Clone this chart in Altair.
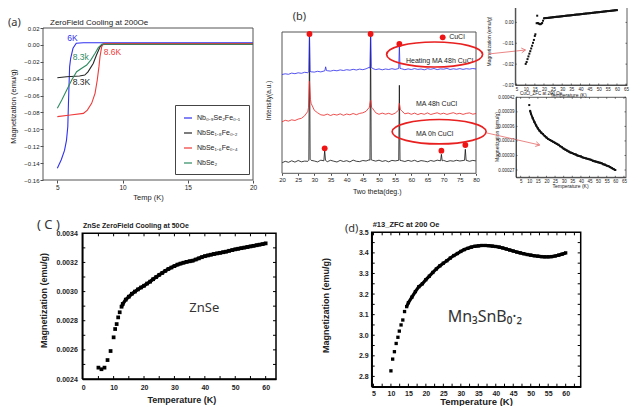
import altair as alt
import pandas as pd

W, H = 626, 398
SANS = "Liberation Sans"
ROUND = "Noto Sans"
INK = "#222222"

# ---------------- (a) data ----------------
a_names = ["Nb₀.₉Se₂Fe₀.₁", "NbSe₁.₈Fe₀.₂", "NbSe₁.₆Fe₀.₄", "NbSe₂"]
a_colors = ["#3030f0", "#262626", "#f03a3a", "#2e8b62"]
a_blue_T = [5.0, 5.3, 5.55, 5.7, 5.8, 5.86, 5.94, 6.02, 6.2, 6.45, 7.0, 20.0]
a_blue_M = [-0.146, -0.136, -0.125, -0.113, -0.097, -0.065, -0.026, -0.016, -0.004, 0.002, 0.0025, 0.0025]
a_black_T = [5.0, 5.7, 6.7, 7.1, 7.35, 7.75, 8.0, 8.25, 8.45, 20.0]
a_black_M = [-0.039, -0.0377, -0.0369, -0.0357, -0.032, -0.022, -0.012, -0.003, 0.0008, 0.0008]
a_red_T = [5.0, 6.0, 7.0, 7.3, 7.63, 7.89, 8.06, 8.19, 8.27, 8.4, 8.55, 20.0]
a_red_M = [-0.085, -0.083, -0.0811, -0.0772, -0.0692, -0.0574, -0.0416, -0.0258, -0.014, -0.002, 0.0015, 0.0015]
a_green_T = [5.0, 5.34, 5.72, 6.1, 6.48, 6.87, 7.25, 7.56, 7.89, 8.14, 8.4, 20.0]
a_green_M = [-0.0751, -0.0653, -0.0535, -0.0416, -0.0318, -0.0277, -0.0238, -0.018, -0.010, -0.0033, 0.0008, 0.0008]
a_xticks = [5, 10, 15, 20]
a_yticks = [0.02, 0.0, -0.02, -0.04, -0.06, -0.08, -0.10, -0.12, -0.14, -0.16]
a_lbl_t = ["6K", "8.3k", "8.3K", "8.6K"]
a_lbl_x = [6.16, 6.79, 6.85, 9.23]
a_lbl_y = [0.0082, -0.0147, -0.0436, -0.008]

# ---------------- (b) data ----------------
b_base_x = list(range(20, 81))
b_black_base = [10.5, 12.0, 11.0, 12.5, 11.2, 12.8, 11.5, 12.2, 12.0, 13.0,
                12.3, 11.4, 13.1, 12.0, 11.6, 13.0, 12.1, 11.3, 12.9, 11.8,
                12.6, 11.4, 13.2, 12.0, 11.7, 12.8, 12.3, 13.5, 13.0, 12.2,
                13.1, 11.9, 12.7, 11.5, 12.9, 12.4, 13.5, 12.6, 11.8, 12.9,
                12.0, 13.0, 11.6, 12.7, 12.2, 11.5, 12.8, 12.0, 13.1, 12.5,
                12.9, 11.7, 12.6, 12.1, 13.0, 12.3, 12.8, 13.5, 12.0, 12.9,
                12.4]
b_red_base = [51.5, 53.0, 52.2, 53.5, 52.8, 54.2, 55.0, 57.5, 62.0, 70.0,
              63.0, 60.5, 58.5, 58.0, 59.2, 57.8, 59.0, 58.2, 59.5, 58.0,
              59.3, 58.5, 59.8, 58.6, 59.9, 60.5, 62.0, 66.0, 65.0, 60.5,
              59.0, 60.2, 59.1, 60.0, 58.8, 60.1, 62.0, 62.5, 59.5, 60.3,
              59.0, 60.2, 58.7, 59.9, 59.0, 60.4, 58.8, 59.7, 60.5, 59.2,
              60.1, 58.9, 59.8, 60.6, 59.3, 60.0, 58.9, 59.9, 60.4, 59.1,
              59.8]
b_blue_base = [98.8, 99.5, 99.0, 100.2, 99.6, 100.5, 100.0, 101.0, 100.6, 101.5,
               101.2, 102.0, 101.4, 102.3, 102.6, 102.2, 103.0, 102.5, 103.4, 102.8,
               103.6, 103.1, 104.0, 103.3, 104.2, 103.6, 104.5, 106.0, 104.8, 103.7,
               104.4, 103.5, 104.3, 103.8, 104.6, 103.9, 105.0, 104.5, 103.6, 104.4,
               103.8, 104.7, 103.9, 104.3, 103.5, 104.6, 104.0, 104.8, 103.7, 104.4,
               104.1, 104.9, 103.8, 104.5, 104.0, 104.7, 103.9, 104.6, 104.2, 104.8,
               104.3]
b_black_pk_x = [28.3, 28.5, 28.7, 32.95, 33.2, 33.45, 47.2, 47.4, 47.6, 56.1, 56.3, 56.5,
                69.05, 69.3, 69.55, 76.45, 76.7, 76.95]
b_black_pk_y = [13.0, 141.3, 14.0, 12.5, 23.0, 13.0, 13.0, 141.3, 13.5, 13.0, 88.0, 13.0,
                12.5, 19.0, 12.5, 13.0, 24.0, 13.0]
b_black_centers = [28.5, 33.2, 47.4, 56.3, 69.3, 76.7]
b_red_pk_x = [28.2, 28.5, 28.8, 47.1, 47.4, 47.7, 56.0, 56.3, 56.6]
b_red_pk_y = [66.0, 92.0, 74.0, 68.0, 73.0, 66.0, 63.0, 70.0, 64.0]
b_red_centers = [28.5, 47.4, 56.3]
b_blue_pk_x = [28.3, 28.5, 28.7, 33.25, 33.5, 33.75, 47.2, 47.4, 47.6, 56.1, 56.3, 56.5]
b_blue_pk_y = [101.5, 141.3, 102.0, 102.5, 106.5, 102.8, 105.0, 141.3, 106.5, 104.8, 128.0, 105.0]
b_blue_centers = [28.5, 33.5, 47.4, 56.3]
b_dot_x = [28.5, 33.2, 47.4, 56.3, 69.3, 76.7]
b_dot_y = [139.3, 25.0, 139.3, 129.3, 22.6, 28.3]
b_xticks = [20, 25, 30, 35, 40, 45, 50, 55, 60, 65, 70, 75, 80]
b_lbl_t = ["Heating MA 48h CuCl", "MA 48h CuCl", "MA 0h CuCl"]
b_lbl_x = [68.75, 67.8, 67.2]
b_lbl_y = [112.3, 69.3, 39.3]
b_ell_x = [67.2, 68.6]
b_ell_y = [118.8, 41.6]
b_arr_x = [83.75, 83.4]
b_arr_y = [119.3, 40.3]
b_arr_x2 = [95.3, 99.7]
b_arr_y2 = [123.3, 28.3]

# ---------------- top-right data ----------------
t1_T = [10, 10.5, 11, 11.5, 12, 12.5, 13, 13.5, 14, 14.5, 15, 15.3, 16, 16.3, 16.6, 17, 17.5, 18, 18.5, 19, 19.5,
        20, 21, 22, 23, 24, 25, 26, 27, 28, 29, 30, 31, 32, 33, 34, 35, 36, 37, 38, 39, 40,
        41, 42, 43, 44, 45, 46, 47, 48, 49, 50, 51, 52, 53, 54, 55, 56, 57, 58, 59, 60]
t1_M = [-0.0199, -0.0190, -0.0176, -0.0163, -0.0150, -0.0138, -0.0125, -0.0112, -0.0098, -0.0084, -0.0065,
        -0.0057, -0.0004, 0.0032, -0.0003, -0.0005, -0.0008, -0.0009, -0.0007, -0.0003, 0.0008,
        0.00195, 0.00205, 0.00215, 0.00226, 0.00236, 0.00246, 0.00255, 0.00265, 0.00275, 0.00285, 0.00295,
        0.00304, 0.00314, 0.00324, 0.00334, 0.00343, 0.00353, 0.00363, 0.00373, 0.00382, 0.00392,
        0.00402, 0.00412, 0.00421, 0.00431, 0.00441, 0.00451, 0.00460, 0.00470, 0.00480, 0.00490,
        0.00499, 0.00509, 0.00519, 0.00529, 0.00539, 0.00548, 0.00558, 0.00568, 0.00578, 0.00587]
t1_xticks = [5, 10, 15, 20, 25, 30, 35, 40, 45, 50, 55, 60, 65]
t1_yticks = [0.01, 0.0, -0.01, -0.02, -0.03]
t2_T = [10, 10.5, 11, 12, 13, 14, 15, 16, 17, 18, 19, 20, 21, 22, 23, 24, 25, 26, 27, 28, 29, 30,
        31, 32, 33, 34, 35, 36, 37, 38, 39, 40, 41, 42, 43, 44, 45, 46, 47, 48, 49, 50,
        51, 52, 53, 54, 55, 56, 57, 58, 59, 60]
t2_M = [0.000404, 0.000392, 0.000386, 0.000377, 0.000369, 0.000362, 0.000356, 0.000351, 0.000347, 0.000344,
        0.000340, 0.000337, 0.000334, 0.000332, 0.000330, 0.000328, 0.000326, 0.000324, 0.000322, 0.000319,
        0.000317, 0.000314, 0.000312, 0.000310, 0.000308, 0.000306, 0.000305, 0.000303, 0.000302, 0.000300,
        0.000299, 0.000298, 0.000296, 0.000295, 0.000294, 0.000293, 0.000292, 0.000291, 0.000289, 0.000288,
        0.000287, 0.000286, 0.000285, 0.000284, 0.000282, 0.000281, 0.000279, 0.000278, 0.000276, 0.000274,
        0.000272, 0.000270]
t2_xticks = [5, 10, 15, 20, 25, 30, 35, 40, 45, 50, 55, 60, 65]
t2_yticks = [0.00042, 0.00039, 0.00036, 0.00033, 0.00030, 0.00027]

# ---------------- (c) data ----------------
c_T = [5, 6, 7, 8, 9, 10, 10.5, 11, 11.5, 12, 12.6, 13, 14, 15, 16, 17, 18, 19, 20,
       21, 22, 23, 24, 25, 26, 27, 28, 29, 30, 31, 32, 33, 34, 35, 36, 37, 38, 39, 40,
       41, 42, 43, 44, 45, 46, 47, 48, 49, 50, 51, 52, 53, 54, 55, 56, 57, 58, 59, 60]
c_M = [0.002478, 0.002467, 0.002478, 0.00253, 0.002592, 0.002686, 0.002743, 0.002777, 0.002823, 0.002858,
       0.002896, 0.002915, 0.002945, 0.002965, 0.002985, 0.003000, 0.003015, 0.003028, 0.003040,
       0.003055, 0.003068, 0.003085, 0.003100, 0.003115, 0.003128, 0.003142, 0.003155, 0.003165, 0.003175,
       0.003185, 0.003192, 0.003198, 0.003204, 0.003208, 0.003212, 0.003220, 0.003228, 0.003236, 0.003243,
       0.003248, 0.003253, 0.003258, 0.003262, 0.003266, 0.003270, 0.003274, 0.003280, 0.003285, 0.003290,
       0.003294, 0.003298, 0.003302, 0.003306, 0.003310, 0.003314, 0.003318, 0.003322, 0.003326, 0.003331]
c_xticks = [0, 10, 20, 30, 40, 50, 60]
c_yticks = [0.0024, 0.0026, 0.0028, 0.0030, 0.0032, 0.0034]
c_minor_x = [5, 10, 15, 20, 25, 30, 35, 40, 45, 50, 55, 60]
c_minor_y = [0.0025, 0.0026, 0.0027, 0.0028, 0.0029, 0.0030, 0.0031, 0.0032, 0.0033]

# ---------------- (d) data ----------------
d_T = [10, 10.5, 11, 11.5, 12, 12.4, 12.9, 13.4, 13.9, 14.5, 15, 16, 17, 18, 19, 20,
       21, 22, 23, 24, 25, 26, 27, 28, 29, 30, 31, 32, 33, 34, 35, 36, 37, 38, 39, 40,
       41, 42, 43, 44, 45, 46, 47, 48, 49, 50, 51, 52, 53, 54, 55, 56, 57, 58, 59, 60]
d_M = [2.827, 2.884, 2.92, 2.96, 2.99, 3.02, 3.05, 3.074, 3.115, 3.139, 3.158, 3.185, 3.212, 3.236, 3.25, 3.27,
       3.287, 3.305, 3.322, 3.337, 3.35, 3.362, 3.375, 3.387, 3.397, 3.407, 3.416, 3.422, 3.428, 3.432, 3.434,
       3.436, 3.436, 3.435, 3.433, 3.431, 3.428, 3.424, 3.419, 3.414, 3.409, 3.404, 3.40, 3.396, 3.392, 3.389,
       3.386, 3.384, 3.382, 3.381, 3.381, 3.382, 3.385, 3.389, 3.394, 3.400]
d_xticks = [5, 10, 15, 20, 25, 30, 35, 40, 45, 50, 55, 60]
d_yticks = [2.8, 2.9, 3.0, 3.1, 3.2, 3.3, 3.4, 3.5]
d_minor_x = [5, 7.5, 10, 12.5, 15, 17.5, 20, 22.5, 25, 27.5, 30, 32.5, 35, 37.5, 40, 42.5, 45, 47.5,
             50, 52.5, 55, 57.5, 60, 62.5]
d_minor_y = [2.8, 2.85, 2.9, 2.95, 3.0, 3.05, 3.1, 3.15, 3.2, 3.25, 3.3, 3.35, 3.4, 3.45]


# ---------------- helpers ----------------
def sc(domain, rng):
    return alt.Scale(domain=domain, range=rng, nice=False, zero=False)


class P:
    """Scales + axes shared by every layer of one panel."""
    def __init__(self, xd, yd, xr, yr, xax, yax):
        self.xd, self.yd, self.xr, self.yr = xd, yd, xr, yr
        self.xs, self.ys = sc(xd, xr), sc(yd, yr)
        self.xax, self.yax = xax, yax

    def X(self, f):
        return alt.X(f, scale=self.xs, axis=self.xax)

    def Y(self, f):
        return alt.Y(f, scale=self.ys, axis=self.yax)


def frame(p, color="#333333", sw=1.0):
    df = pd.DataFrame({"x0": [p.xd[0]], "x1": [p.xd[1]], "y0": [p.yd[0]], "y1": [p.yd[1]]})
    return alt.Chart(df).mark_rect(filled=False, stroke=color, strokeWidth=sw).encode(
        x=p.X("x0:Q"), x2="x1:Q", y=p.Y("y0:Q"), y2="y1:Q")


def frame_lines(p, xt, yt, length, color, sw, tw):
    """Panel box as a closed path plus short inward tick segments on all four edges."""
    x0, x1 = p.xd
    y0, y1 = p.yd
    dy = length * (y1 - y0) / (p.yr[0] - p.yr[1])
    dx = length * (x1 - x0) / (p.xr[1] - p.xr[0])
    box = pd.DataFrame({"x": [x0, x1, x1, x0, x0], "y": [y0, y0, y1, y1, y0], "o": [0, 1, 2, 3, 4]})
    rows = []
    g = 0
    for t in xt:
        rows += [(t, y0, g, 0), (t, y0 + dy, g, 1)]
        g += 1
        rows += [(t, y1, g, 0), (t, y1 - dy, g, 1)]
        g += 1
    for t in yt:
        rows += [(x0, t, g, 0), (x0 + dx, t, g, 1)]
        g += 1
        rows += [(x1, t, g, 0), (x1 - dx, t, g, 1)]
        g += 1
    ticks = pd.DataFrame(rows, columns=["x", "y", "g", "o"])
    box_l = alt.Chart(box).mark_line(color=color, strokeWidth=sw).encode(
        x=p.X("x:Q"), y=p.Y("y:Q"), order=alt.Order("o:Q"))
    tick_l = alt.Chart(ticks).mark_line(color=color, strokeWidth=tw).encode(
        x=p.X("x:Q"), y=p.Y("y:Q"), detail="g:N", order=alt.Order("o:Q"))
    return [box_l, tick_l]


def lab_axis(orient, offset, values, fmt=None, size=6.0, weight="normal", pad=2, tick=0.0,
             title=None, tx=0, ty=0, tsize=7.0, tweight="normal", dom=None, dw=1.0):
    kw = dict(orient=orient, offset=offset, values=values, grid=False,
              labelFont=SANS, labelFontSize=size, labelFontWeight=weight, labelColor=INK,
              labelPadding=pad, labelFlush=False, labelOverlap=False,
              ticks=tick > 0, tickSize=tick, tickColor=INK, tickWidth=0.8)
    if dom:
        kw.update(domain=True, domainColor=dom, domainWidth=dw)
    else:
        kw["domain"] = False
    if fmt:
        kw["format"] = fmt
    if title:
        kw.update(title=title, titleFont=SANS, titleFontSize=tsize, titleFontWeight=tweight,
                  titleColor=INK, titleX=tx, titleY=ty, titleAlign="center", titleBaseline="middle")
        if orient in ("left", "right"):
            kw["titleAngle"] = 270
    else:
        kw["title"] = None
    return alt.Axis(**kw)


def data_text(df, p, **kw):
    return alt.Chart(df).mark_text(**kw).encode(x=p.X("x:Q"), y=p.Y("y:Q"), text="t:N")


def pix_text(text, x, y, **kw):
    return alt.Chart(pd.DataFrame({"t": [text]})).mark_text(**kw).encode(
        x=alt.value(x), y=alt.value(y), text="t:N")


def squares_and_band(T, M, p, t_band, size, band_w, color):
    df_all = pd.DataFrame({"x": T, "y": M})
    df_band = df_all[df_all["x"] >= t_band].reset_index(drop=True)
    pts = alt.Chart(df_all).mark_square(size=size, color=color, opacity=1).encode(x=p.X("x:Q"), y=p.Y("y:Q"))
    band = alt.Chart(df_band).mark_line(color=color, strokeWidth=band_w).encode(
        x=p.X("x:Q"), y=p.Y("y:Q"), order=alt.Order("x:Q"))
    return [pts, band]


# ---------------- panel (a) ----------------
pa = P([3.9, 20], [-0.16, 0.02], [35, 245], [172, 20],
       lab_axis("bottom", 172 - H, a_xticks, size=6.5, pad=1, tick=3,
                title="Temp (K)", tx=140, ty=17, tsize=7.5),
       lab_axis("left", -35, a_yticks, fmt=".2f", size=6, pad=1, tick=3,
                title="Magnetization (emu/g)", tx=-29.7, ty=98, tsize=7.5))
df_a = pd.concat([
    pd.DataFrame({"T": T, "M": M, "s": n})
    for n, T, M in zip(a_names, [a_blue_T, a_black_T, a_red_T, a_green_T],
                       [a_blue_M, a_black_M, a_red_M, a_green_M])
])
a_line = alt.Chart(df_a).mark_line(strokeWidth=1.1).encode(
    x=pa.X("T:Q"), y=pa.Y("M:Q"),
    color=alt.Color("s:N", scale=alt.Scale(domain=a_names, range=a_colors),
                    legend=alt.Legend(orient="none", legendX=167, legendY=97, title=None,
                                      symbolType="stroke", symbolSize=64, symbolStrokeWidth=1.2,
                                      labelFont=SANS, labelFontSize=7, labelColor=INK,
                                      rowPadding=7, padding=8, strokeColor="#444444",
                                      fillColor="white", labelLimit=90)),
    order=alt.Order("T:Q"),
)
a_texts = [
    data_text(pd.DataFrame({"x": [a_lbl_x[i]], "y": [a_lbl_y[i]], "t": [a_lbl_t[i]]}), pa,
              font=SANS, fontSize=8.5, color=a_colors[c])
    for i, c in zip(range(4), [0, 3, 1, 2])
]
panel_a = alt.layer(a_line, frame(pa, color="#555555"), *a_texts)

# ---------------- panel (b) ----------------
pb = P([20, 80], [0, 141.3], [274, 468], [165.3, 24],
       lab_axis("bottom", 165.3 - H, b_xticks, size=6, pad=1, tick=2,
                title="Two theta(deg.)", tx=368.7, ty=17.7, tsize=7),
       lab_axis("left", -274, [], title="Intensity(a.u.)", tx=-14, ty=92, tsize=6.5))


def b_series(base, pk_x, pk_y, centers):
    keep = [(x, y) for x, y in zip(b_base_x, base) if all(abs(x - c) > 0.35 for c in centers)]
    pts = sorted(keep + list(zip(pk_x, pk_y)))
    return pd.DataFrame({"x": [q[0] for q in pts], "y": [q[1] for q in pts]})


def b_line(df, color):
    return alt.Chart(df).mark_line(color=color, strokeWidth=0.8).encode(
        x=pb.X("x:Q"), y=pb.Y("y:Q"), order=alt.Order("x:Q"))


b_black = b_line(b_series(b_black_base, b_black_pk_x, b_black_pk_y, b_black_centers), "#111111")
b_red = b_line(b_series(b_red_base, b_red_pk_x, b_red_pk_y, b_red_centers), "#ee2222")
b_blue = b_line(b_series(b_blue_base, b_blue_pk_x, b_blue_pk_y, b_blue_centers), "#2a2aee")
b_dots = alt.Chart(pd.DataFrame({"x": b_dot_x, "y": b_dot_y})).mark_circle(
    size=34, color="#f01414", opacity=1).encode(x=pb.X("x:Q"), y=pb.Y("y:Q"))
b_key_dot = alt.Chart(pd.DataFrame({"x": [69.7], "y": [136.0]})).mark_circle(
    size=34, color="#f01414", opacity=1).encode(x=pb.X("x:Q"), y=pb.Y("y:Q"))
b_key_txt = data_text(pd.DataFrame({"x": [71.7], "y": [136.0], "t": ["CuCl"]}), pb,
                      font=SANS, fontSize=7, color=INK, align="left", baseline="middle")
b_texts = data_text(pd.DataFrame({"x": b_lbl_x, "y": b_lbl_y, "t": b_lbl_t}), pb,
                    font=SANS, fontSize=7, color=INK, align="center", baseline="middle")
ELLIPSE = "M -1 0 A 1 0.26 0 1 1 1 0 A 1 0.26 0 1 1 -1 0 Z"
b_ells = [
    alt.Chart(pd.DataFrame({"x": [b_ell_x[i]], "y": [b_ell_y[i]]})).mark_point(
        shape=ELLIPSE, size=sz, filled=False, stroke="#e82020", strokeWidth=1.7, opacity=1).encode(
        x=pb.X("x:Q"), y=pb.Y("y:Q"))
    for i, sz in zip(range(2), [9216, 8836])
]
df_arr = pd.DataFrame({"x": b_arr_x, "y": b_arr_y, "x2": b_arr_x2, "y2": b_arr_y2, "ang": [354, 13]})
b_arrows = alt.Chart(df_arr).mark_rule(color="#e87878", strokeWidth=0.9).encode(
    x=pb.X("x:Q"), x2="x2:Q", y=pb.Y("y:Q"), y2="y2:Q")
b_heads = alt.Chart(df_arr).mark_point(
    shape="M -1 -0.6 L 0 0 L -1 0.6", size=64, filled=False, stroke="#e87878", strokeWidth=0.9,
    opacity=1).encode(x=pb.X("x2:Q"), y=pb.Y("y2:Q"), angle=alt.Angle("ang:Q", scale=None))
panel_b = alt.layer(b_black, frame(pb, color="#555555"), b_red, b_blue, b_dots,
                    b_key_dot, b_key_txt, b_texts, *b_ells, b_arrows, b_heads)

# ---------------- top-right panels ----------------
p1 = P([4.3, 65.5], [-0.03, 0.01], [507.3, 619], [77, -6.5],
       lab_axis("bottom", 77 - H, t1_xticks, size=4.5, pad=1, title="Temperature (K)", tx=560, ty=9.3, tsize=5,
                dom="#333333", dw=0.8),
       lab_axis("left", -507.3, t1_yticks, fmt=".2f", size=4.5, pad=2, title="Magnetization (emu/g)",
                tx=-27, ty=33, tsize=5, dom="#333333", dw=0.8))
panel_t1 = alt.layer(*squares_and_band(t1_T, t1_M, p1, 20, 4, 2, "#111111"),
                     *frame_lines(p1, t1_xticks, t1_yticks, 1.5, "#333333", 0.8, 0.7))

p2 = P([2.3, 66.2], [0.000255, 0.00042], [508, 618], [169.3, 89.3],
       lab_axis("bottom", 169.3 - H, t2_xticks, size=4.5, pad=1, title="Temperature (K)", tx=562, ty=8.2,
                tsize=5, dom="#333333", dw=0.8),
       lab_axis("left", -508, t2_yticks, fmt=".5f", size=4.5, pad=2, title="Magnetization (emu/g)",
                tx=-20, ty=128.5, tsize=5, dom="#333333", dw=0.8))
panel_t2 = alt.layer(*squares_and_band(t2_T, t2_M, p2, 10.5, 4, 2, "#111111"),
                     *frame_lines(p2, t2_xticks, t2_yticks, 1.5, "#333333", 0.8, 0.7))

# ---------------- panel (c) ----------------
pc = P([-0.3, 63.4], [0.0024, 0.0034], [74.3, 268], [371, 225.3],
       lab_axis("bottom", 371 - H, c_xticks, size=7, weight="bold", pad=4,
                title="Temperature (K)", tx=173.3, ty=20, tsize=9, tweight="bold", dom="#000000", dw=1.5),
       lab_axis("left", -74.3, c_yticks, fmt=".4f", size=7, weight="bold", pad=5,
                title="Magnetization (emu/g)", tx=-39, ty=292, tsize=9, tweight="bold",
                dom="#000000", dw=1.5))
c_txt = data_text(pd.DataFrame({"x": [39.8], "y": [0.002885], "t": ["ZnSe"]}), pc,
                  font=ROUND, fontSize=13, color="#333333", align="center", baseline="middle")
panel_c = alt.layer(*squares_and_band(c_T, c_M, pc, 12.5, 14, 3.4, "#000000"), c_txt,
                    *frame_lines(pc, c_minor_x, c_minor_y, 3, "#000000", 1.5, 1.0))

# ---------------- panel (d) ----------------
pd_ = P([4.5, 64.3], [2.75, 3.5], [363.7, 572.7], [378.7, 224.3],
        lab_axis("bottom", 378.7 - H, d_xticks, size=7, weight="bold", pad=2.5,
                 title="Temperature (K)", tx=468, ty=14.8, tsize=9.5, tweight="bold", dom="#000000", dw=1.5),
        lab_axis("left", -363.7, d_yticks, fmt=".1f", size=7, weight="bold", pad=3.5,
                 title="Magnetization (emu/g)", tx=-46.7, ty=297, tsize=9, tweight="bold",
                 dom="#000000", dw=1.5))
d_txt = data_text(pd.DataFrame({"x": [36.9], "y": [3.09], "t": ["Mn₃SnB₀·₂"]}), pd_,
                  font=ROUND, fontSize=16, color="#333333", align="center", baseline="middle")
panel_d = alt.layer(*squares_and_band(d_T, d_M, pd_, 14.5, 11, 3.2, "#000000"), d_txt,
                    *frame_lines(pd_, d_minor_x, d_minor_y, 3, "#000000", 1.5, 1.0))

# ---------------- free annotations ----------------
notes = [
    pix_text("(a)", 0, 14.7, font=ROUND, fontSize=11, color="#333333", align="left", baseline="middle"),
    pix_text("ZeroField Cooling at 200Oe", 42, 14.7, font=SANS, fontSize=8, color=INK, align="left",
             baseline="middle"),
    pix_text("(b)", 284.7, 9, font=ROUND, fontSize=11, color="#333333", align="left", baseline="middle"),
    pix_text("CuCl_ZFC at 200 Oe", 512, 86, font=SANS, fontSize=4.5, color=INK, align="left",
             baseline="middle"),
    pix_text("( C )", 29, 217, font=ROUND, fontSize=13, color="#333333", align="left", baseline="middle"),
    pix_text("ZnSe ZeroField Cooling at 50Oe", 75, 218, font=SANS, fontSize=7, fontWeight="bold",
             color=INK, align="left", baseline="middle"),
    pix_text("(d)", 337, 221, font=ROUND, fontSize=11, color="#333333", align="left", baseline="middle"),
    pix_text("#13_ZFC at 200 Oe", 364.7, 217, font=SANS, fontSize=7.5, fontWeight="bold", color=INK,
             align="left", baseline="middle"),
]

chart = alt.layer(panel_a, panel_b, panel_t1, panel_t2, panel_c, panel_d, *notes).resolve_scale(
    x="independent", y="independent"
).properties(
    width=W, height=H, autosize=alt.AutoSizeParams(type="none"), padding=0, background="white"
).configure_view(stroke=None)

chart.save("out.html", embed_options={"renderer": "svg", "actions": False})
